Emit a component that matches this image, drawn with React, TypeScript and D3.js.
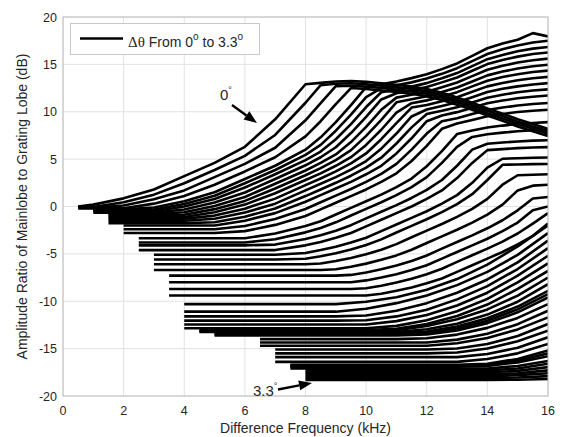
import React, { useEffect, useRef } from 'react';
import * as d3 from 'd3';

// tick values
const xTicks = [0, 2, 4, 6, 8, 10, 12, 14, 16];
const yTicks = [-20, -15, -10, -5, 0, 5, 10, 15, 20];

// frequency grids (kHz) for each start frequency
const fLate = [8.5, 9, 9.5, 10, 10.5, 11, 11.5, 12, 12.5, 13, 13.5, 14, 14.5, 15, 15.5, 16];
const freq0_5 = [0.5, 1, 2, 3, 4, 5, 6, 7, 8, ...fLate];
const freq1_0 = [1, 2, 3, 4, 5, 6, 7, 8, ...fLate];
const freq1_5 = [1.5, 2, 3, 4, 5, 6, 7, 8, ...fLate];
const freq2_0 = [2, 3, 4, 5, 6, 7, 8, ...fLate];
const freq2_5 = [2.5, 3, 4, 5, 6, 7, 8, ...fLate];
const freq3_0 = [3, 4, 5, 6, 7, 8, ...fLate];
const freq3_5 = [3.5, 4, 5, 6, 7, 8, ...fLate];
const freq4_0 = [4, 5, 6, 7, 8, 9, 10, 11, 12, 13, 14, 15, 16];
const freq4_5 = [4.5, 5, 6, 7, 8, 9, 10, 11, 12, 13, 14, 15, 16];
const freq5_0 = [5, 6, 7, 8, 9, 10, 11, 12, 13, 14, 15, 16];
const freq6_5 = [6.5, 7, 8, 9, 10, 11, 12, 13, 14, 15, 16];
const freq7_0 = [7, 8, 9, 10, 11, 12, 13, 14, 15, 16];
const freq7_5 = [7.5, 8, 9, 10, 11, 12, 13, 14, 15, 16];
const freq8_0 = [8, 9, 10, 11, 12, 13, 14, 15, 16];

// ratio (dB) of each curve
const start0_5 = [
  [0, 0.2, 0.86, 1.8, 3.2, 4.6, 6.3, 9.2, 12.9, 13.05, 13.2, 13.25, 13.15, 13.0, 12.85, 12.65, 12.4, 12.0, 11.5, 10.95, 10.35, 9.8, 9.2, 8.7, 8.2],
  [-0.05, -0.05, 0.45, 1.25, 2.45, 3.85, 5.35, 7.55, 10.95, 12.8, 12.95, 13.0, 12.9, 12.75, 12.6, 12.4, 12.15, 11.75, 11.25, 10.7, 10.1, 9.55, 8.95, 8.45, 7.95],
  [-0.1, -0.1, 0.1, 0.76, 1.7, 3.1, 4.5, 6.2, 9.1, 10.9, 12.7, 12.75, 12.65, 12.5, 12.35, 12.15, 11.9, 11.5, 11.0, 10.45, 9.85, 9.3, 8.7, 8.2, 7.7],
  [-0.2, -0.2, -0.2, 0.3, 1.1, 2.3, 3.7, 5.2, 7.4, 9.0, 10.8, 12.5, 12.4, 12.25, 12.1, 11.9, 11.65, 11.25, 10.75, 10.2, 9.6, 9.05, 8.45, 7.95, 7.45],
];
const start1_0 = [
  [-0.3, -0.3, -0.1, 0.56, 1.5, 2.9, 4.3, 6.0, 7.3, 8.9, 10.7, 12.6, 12.9, 13.2, 13.55, 13.95, 14.5, 15.1, 15.9, 16.7, 17.2, 17.6, 18.3, 17.95],
  [-0.4, -0.4, -0.32, 0.27, 1.14, 2.45, 3.85, 5.45, 6.5, 8.0, 9.7, 11.55, 12.5, 12.8, 13.1, 13.5, 14.0, 14.6, 15.35, 16.1, 16.6, 17.0, 17.3, 17.5],
  [-0.5, -0.5, -0.5, 0.0, 0.8, 2.0, 3.4, 4.9, 5.8, 7.1, 8.7, 10.5, 12.06, 12.33, 12.65, 13.02, 13.53, 14.08, 14.82, 15.55, 16.0, 16.38, 16.66, 16.84],
  [-0.65, -0.65, -0.65, -0.31, 0.42, 1.48, 2.9, 4.35, 5.2, 6.25, 7.75, 9.45, 11.3, 11.95, 12.26, 12.61, 13.1, 13.62, 14.33, 15.03, 15.47, 15.82, 16.09, 16.26],
];
const start1_5 = [
  [-0.8, -0.8, -0.8, -0.6, 0.06, 1.0, 2.4, 3.8, 4.6, 5.5, 6.8, 8.4, 10.2, 11.49, 11.79, 12.12, 12.58, 13.09, 13.76, 14.43, 14.85, 15.19, 15.44, 15.61],
  [-0.95, -0.95, -0.95, -0.87, -0.28, 0.59, 1.9, 3.3, 4.05, 4.9, 5.95, 7.45, 9.15, 11.0, 11.32, 11.64, 12.08, 12.56, 13.2, 13.84, 14.24, 14.56, 14.8, 14.96],
  [-1.1, -1.1, -1.1, -1.1, -0.6, 0.2, 1.4, 2.8, 3.5, 4.3, 5.2, 6.5, 8.1, 9.9, 10.9, 11.2, 11.62, 12.07, 12.68, 13.28, 13.66, 13.96, 14.19, 14.34],
  [-1.3, -1.3, -1.3, -1.3, -0.96, -0.23, 0.83, 2.25, 2.95, 3.7, 4.55, 5.6, 7.1, 8.8, 10.44, 10.72, 11.11, 11.54, 12.11, 12.68, 13.04, 13.33, 13.54, 13.68],
  [-1.5, -1.5, -1.5, -1.5, -1.3, -0.64, 0.3, 1.7, 2.4, 3.1, 3.9, 4.8, 6.1, 7.7, 9.5, 10.24, 10.61, 11.01, 11.54, 12.08, 12.42, 12.68, 12.88, 13.02],
  [-1.75, -1.75, -1.75, -1.75, -1.67, -1.08, -0.21, 1.1, 1.8, 2.5, 3.25, 4.1, 5.15, 6.65, 8.35, 9.76, 10.11, 10.48, 10.98, 11.48, 11.8, 12.05, 12.24, 12.36],
];
const start2_0 = [
  [-2.0, -2.0, -2.0, -2.0, -1.5, -0.7, 0.5, 1.2, 1.9, 2.6, 3.4, 4.3, 5.6, 7.2, 9.0, 9.61, 9.96, 10.43, 10.89, 11.18, 11.42, 11.59, 11.71],
  [-2.4, -2.4, -2.4, -2.4, -2.06, -1.33, -0.27, 0.45, 1.15, 1.85, 2.6, 3.45, 4.5, 6.0, 7.7, 9.0, 9.32, 9.75, 10.18, 10.44, 10.66, 10.82, 10.92],
  [-2.8, -2.8, -2.8, -2.8, -2.6, -1.94, -1.0, -0.3, 0.4, 1.1, 1.8, 2.6, 3.5, 4.8, 6.4, 8.2, 8.75, 9.14, 9.53, 9.77, 9.97, 10.11, 10.21],
];
const start2_5 = [
  [-3.35, -3.35, -3.35, -3.35, -3.35, -2.85, -2.05, -1.55, -0.85, -0.15, 0.55, 1.25, 2.05, 2.95, 4.25, 5.85, 7.65, 8.02, 8.34, 8.54, 8.7, 8.82, 8.9],
  [-3.8, -3.8, -3.8, -3.8, -3.8, -3.46, -2.73, -2.26, -1.67, -0.95, -0.25, 0.45, 1.2, 2.05, 3.1, 4.6, 6.3, 7.34, 7.62, 7.8, 7.94, 8.04, 8.11],
  [-4.1, -4.1, -4.1, -4.1, -4.1, -4.02, -3.43, -3.03, -2.56, -1.97, -1.25, -0.55, 0.15, 0.9, 1.75, 2.8, 4.3, 6.0, 6.62, 6.75, 6.86, 6.95, 7.0],
  [-4.6, -4.6, -4.6, -4.6, -4.6, -4.6, -4.1, -3.74, -3.3, -2.8, -2.1, -1.4, -0.7, 0.0, 0.8, 1.7, 3.0, 4.6, 5.95, 6.06, 6.16, 6.22, 6.27],
];
const start3_0 = [
  [-5.1, -5.1, -5.1, -5.1, -5.1, -4.9, -4.6, -4.24, -3.8, -3.3, -2.6, -1.9, -1.2, -0.5, 0.3, 1.2, 2.5, 4.1, 5.04, 5.1, 5.14, 5.17],
  [-5.6, -5.6, -5.6, -5.6, -5.6, -5.52, -5.26, -4.93, -4.53, -4.06, -3.47, -2.75, -2.05, -1.35, -0.6, 0.25, 1.3, 2.8, 4.4, 4.44, 4.47, 4.49],
  [-6.1, -6.1, -6.1, -6.1, -6.1, -6.1, -6.02, -5.76, -5.43, -5.03, -4.56, -3.97, -3.25, -2.55, -1.85, -1.1, -0.25, 0.8, 2.3, 3.3, 3.35, 3.4],
  [-6.7, -6.7, -6.7, -6.7, -6.7, -6.7, -6.7, -6.62, -6.36, -6.03, -5.63, -5.16, -4.57, -3.85, -3.15, -2.45, -1.7, -0.85, 0.2, 1.7, 2.2, 2.3],
];
const start3_5 = [
  [-7.3, -7.3, -7.3, -7.3, -7.3, -7.3, -7.3, -7.3, -7.22, -6.96, -6.63, -6.23, -5.76, -5.17, -4.45, -3.75, -3.05, -2.3, -1.45, -0.4, 0.85, 1.0],
  [-8.0, -8.0, -8.0, -8.0, -8.0, -8.0, -8.0, -8.0, -8.0, -7.8, -7.5, -7.14, -6.7, -6.2, -5.5, -4.8, -4.1, -3.4, -2.6, -1.7, -0.4, 0.0],
  [-8.7, -8.7, -8.7, -8.7, -8.7, -8.7, -8.7, -8.7, -8.7, -8.62, -8.36, -8.03, -7.63, -7.16, -6.57, -5.85, -5.15, -4.45, -3.7, -2.85, -1.8, -0.7],
  [-9.4, -9.4, -9.4, -9.4, -9.4, -9.4, -9.4, -9.4, -9.4, -9.4, -9.2, -8.9, -8.54, -8.1, -7.6, -6.9, -6.2, -5.5, -4.8, -4.0, -3.1, -1.8],
];
const start4_0 = [
  [-10.3, -10.3, -10.3, -10.3, -10.3, -10.3, -10.06, -9.58, -8.78, -7.66, -6.14, -4.22, -2.0],
  [-11.1, -11.1, -11.1, -11.1, -11.1, -11.1, -10.8, -10.2, -9.4, -8.3, -6.9, -5.1, -2.8],
  [-11.6, -11.6, -11.6, -11.6, -11.6, -11.6, -11.5, -11.0, -10.2, -9.1, -7.7, -5.9, -3.6],
  [-12.05, -12.05, -12.05, -12.05, -12.05, -12.05, -12.0, -11.6, -10.9, -9.8, -8.4, -6.6, -4.4],
  [-12.45, -12.45, -12.45, -12.45, -12.45, -12.45, -12.45, -12.1, -11.45, -10.45, -9.1, -7.3, -5.2],
  [-12.85, -12.85, -12.85, -12.85, -12.85, -12.85, -12.85, -12.6, -12.0, -11.05, -9.75, -8.0, -6.0],
];
const start4_5 = [
  [-13.05, -13.05, -13.05, -13.05, -13.05, -13.05, -13.05, -12.9, -12.4, -11.55, -10.35, -8.7, -6.8],
  [-13.15, -13.15, -13.15, -13.15, -13.15, -13.15, -13.15, -13.05, -12.62, -11.91, -10.86, -9.4, -7.5],
  [-13.25, -13.25, -13.25, -13.25, -13.25, -13.25, -13.25, -13.25, -12.96, -12.38, -11.41, -10.05, -8.2],
];
const start5_0 = [
  [-13.4, -13.4, -13.4, -13.4, -13.4, -13.4, -13.4, -13.19, -12.66, -11.79, -10.56, -8.9],
  [-13.5, -13.5, -13.5, -13.5, -13.5, -13.5, -13.5, -13.35, -12.87, -12.05, -10.86, -9.25],
  [-13.6, -13.6, -13.6, -13.6, -13.6, -13.6, -13.6, -13.5, -13.08, -12.31, -11.17, -9.6],
];
const start6_5 = [
  [-14.0, -14.0, -14.0, -14.0, -14.0, -14.0, -13.91, -13.52, -12.81, -11.76, -10.3],
  [-14.35, -14.35, -14.35, -14.35, -14.35, -14.35, -14.35, -14.05, -13.44, -12.42, -11.0],
  [-14.7, -14.7, -14.7, -14.7, -14.7, -14.7, -14.7, -14.43, -13.88, -12.97, -11.7],
];
const start7_0 = [
  [-15.1, -15.1, -15.1, -15.1, -15.1, -15.1, -14.99, -14.52, -13.67, -12.4],
  [-15.5, -15.5, -15.5, -15.5, -15.5, -15.5, -15.41, -14.98, -14.23, -13.1],
  [-15.9, -15.9, -15.9, -15.9, -15.9, -15.9, -15.9, -15.57, -14.91, -13.8],
  [-16.4, -16.4, -16.4, -16.4, -16.4, -16.4, -16.4, -16.1, -15.5, -14.5],
];
const start7_5 = [
  [-16.7, -16.7, -16.7, -16.7, -16.7, -16.7, -16.7, -16.59, -16.09, -15.2],
  [-16.8, -16.8, -16.8, -16.8, -16.8, -16.8, -16.8, -16.7, -16.27, -15.5],
  [-16.9, -16.9, -16.9, -16.9, -16.9, -16.9, -16.9, -16.82, -16.45, -15.8],
  [-17.1, -17.1, -17.1, -17.1, -17.1, -17.1, -17.1, -17.1, -16.83, -16.3],
];
const start8_0 = [
  [-17.3, -17.3, -17.3, -17.3, -17.3, -17.3, -17.3, -17.1, -16.6],
  [-17.5, -17.5, -17.5, -17.5, -17.5, -17.5, -17.5, -17.35, -16.95],
  [-17.7, -17.7, -17.7, -17.7, -17.7, -17.7, -17.7, -17.6, -17.3],
  [-17.9, -17.9, -17.9, -17.9, -17.9, -17.9, -17.9, -17.8, -17.6],
  [-18.1, -18.1, -18.1, -18.1, -18.1, -18.1, -18.1, -18.05, -17.9],
  [-18.3, -18.3, -18.3, -18.3, -18.3, -18.3, -18.3, -18.28, -18.2],
];

const groups: [number[], number[][]][] = [
  [freq0_5, start0_5], [freq1_0, start1_0], [freq1_5, start1_5], [freq2_0, start2_0],
  [freq2_5, start2_5], [freq3_0, start3_0], [freq3_5, start3_5], [freq4_0, start4_0],
  [freq4_5, start4_5], [freq5_0, start5_0], [freq6_5, start6_5], [freq7_0, start7_0],
  [freq7_5, start7_5], [freq8_0, start8_0],
];

const FONT = '"Liberation Sans", Arial, Helvetica, sans-serif';
const TEXT = '#262626';

export default function App() {
  const ref = useRef<SVGSVGElement>(null);

  useEffect(() => {
    const svg = d3.select(ref.current);
    svg.selectAll('*').remove();
    const width = 563, height = 437;
    const x = d3.scaleLinear().domain([0, 16]).range([63, 548]);
    const y = d3.scaleLinear().domain([-20, 20]).range([396, 17]);

    svg.append('rect').attr('width', width).attr('height', height).attr('fill', '#fff');

    svg.append('defs').append('clipPath').attr('id', 'plotclip')
      .append('rect').attr('x', x(0)).attr('y', y(20))
      .attr('width', x(16) - x(0)).attr('height', y(-20) - y(20));

    // grid
    const grid = svg.append('g').attr('stroke', '#e2e2e2').attr('stroke-width', 1);
    xTicks.forEach(t => {
      grid.append('line').attr('x1', x(t)).attr('x2', x(t)).attr('y1', y(20)).attr('y2', y(-20));
    });
    yTicks.forEach(t => {
      grid.append('line').attr('x1', x(0)).attr('x2', x(16)).attr('y1', y(t)).attr('y2', y(t));
    });

    // curves
    const line = d3.line<[number, number]>().x(d => x(d[0])).y(d => y(d[1]));
    const curves: [number, number][][] = [];
    groups.forEach(([freq, rows]) => {
      rows.forEach(row => curves.push(row.map((v, i) => [freq[i], v] as [number, number])));
    });
    svg.append('g').attr('clip-path', 'url(#plotclip)')
      .selectAll('path.curve')
      .data(curves)
      .enter()
      .append('path')
      .attr('class', 'curve')
      .attr('d', d => line(d))
      .attr('fill', 'none')
      .attr('stroke', '#000')
      .attr('stroke-width', 2.6)
      .attr('stroke-linejoin', 'round');

    // box
    svg.append('rect').attr('x', x(0)).attr('y', y(20))
      .attr('width', x(16) - x(0)).attr('height', y(-20) - y(20))
      .attr('fill', 'none').attr('stroke', '#bdbdbd').attr('stroke-width', 1);

    // tick labels
    svg.append('g').selectAll('text').data(xTicks).enter().append('text')
      .attr('x', d => x(d)).attr('y', 415)
      .attr('text-anchor', 'middle').attr('font-family', FONT).attr('font-size', 12.5)
      .attr('fill', TEXT).text(d => String(d));
    svg.append('g').selectAll('text').data(yTicks).enter().append('text')
      .attr('x', 57).attr('y', d => y(d) + 4.5)
      .attr('text-anchor', 'end').attr('font-family', FONT).attr('font-size', 12.5)
      .attr('fill', TEXT).text(d => String(d));

    // axis titles
    svg.append('text').attr('x', (x(0) + x(16)) / 2).attr('y', 433)
      .attr('text-anchor', 'middle').attr('font-family', FONT).attr('font-size', 14)
      .attr('fill', TEXT).text('Difference Frequency (kHz)');
    svg.append('text').attr('transform', `translate(27,${(y(20) + y(-20)) / 2}) rotate(-90)`)
      .attr('text-anchor', 'middle').attr('font-family', FONT).attr('font-size', 14)
      .attr('fill', TEXT).text('Amplitude Ratio of Mainlobe to Grating Lobe (dB)');

    // annotations
    const arrow = (x1: number, y1: number, x2: number, y2: number) => {
      const ang = Math.atan2(y2 - y1, x2 - x1);
      const len = 13, half = 5;
      const bx = x2 - len * Math.cos(ang), by = y2 - len * Math.sin(ang);
      svg.append('line').attr('x1', x1).attr('y1', y1).attr('x2', bx).attr('y2', by)
        .attr('stroke', '#000').attr('stroke-width', 2.4);
      const p = [
        [x2, y2],
        [bx + half * Math.sin(ang), by - half * Math.cos(ang)],
        [bx - half * Math.sin(ang), by + half * Math.cos(ang)],
      ];
      svg.append('path').attr('d', 'M' + p.map(q => q.join(',')).join('L') + 'Z').attr('fill', '#000');
    };
    const label0 = svg.append('text').attr('x', 220).attr('y', 100)
      .attr('font-family', FONT).attr('font-size', 15).attr('fill', TEXT);
    label0.append('tspan').text('0');
    label0.append('tspan').attr('dy', -7).attr('font-size', 9).text('°');
    arrow(232, 105, 257, 123);

    const label33 = svg.append('text').attr('x', 253).attr('y', 396)
      .attr('font-family', FONT).attr('font-size', 15).attr('fill', TEXT);
    label33.append('tspan').text('3.3');
    label33.append('tspan').attr('dy', -7).attr('font-size', 9).text('°');
    arrow(278, 389.5, 312, 383);

    // legend
    svg.append('rect').attr('x', 70.5).attr('y', 23.5).attr('width', 189).attr('height', 31)
      .attr('fill', '#fff').attr('stroke', '#c8c8c8').attr('stroke-width', 1);
    svg.append('line').attr('x1', 80).attr('x2', 123).attr('y1', 38.5).attr('y2', 38.5)
      .attr('stroke', '#000').attr('stroke-width', 2.4);
    const leg = svg.append('text').attr('x', 128).attr('y', 46.5)
      .attr('font-family', FONT).attr('font-size', 14).attr('fill', TEXT);
    leg.append('tspan').attr('font-family', '"Liberation Serif", "Times New Roman", serif').attr('font-size', 15).text('Δθ');
    leg.append('tspan').text(' From 0');
    leg.append('tspan').attr('dy', -7).attr('font-size', 10).text('o');
    leg.append('tspan').attr('dy', 7).text(' to 3.3');
    leg.append('tspan').attr('dy', -7).attr('font-size', 10).text('o');
  }, []);

  return (
    <svg ref={ref} width={563} height={437}
      style={{ position: 'absolute', left: 0, top: 0, display: 'block' }} />
  );
}
